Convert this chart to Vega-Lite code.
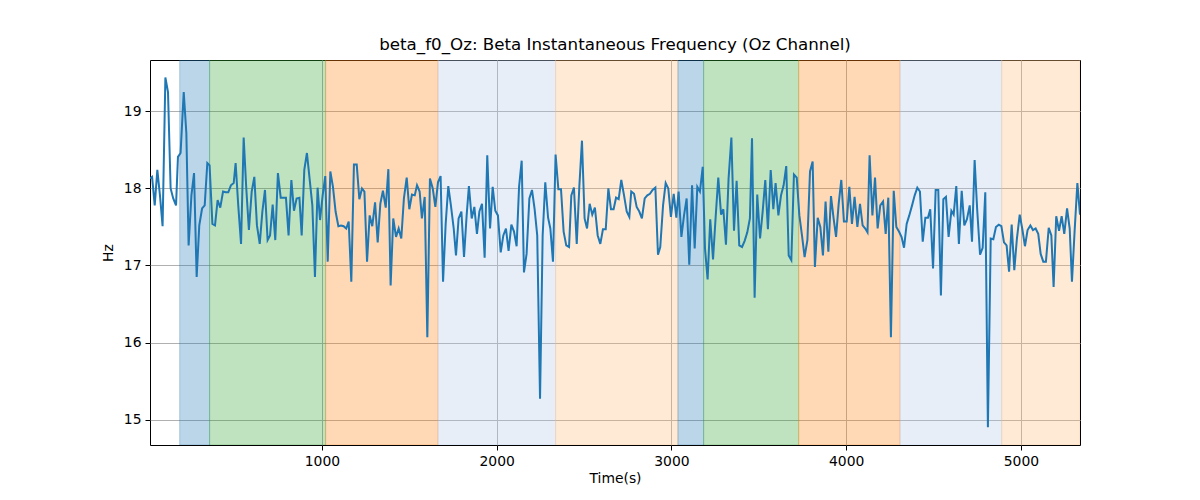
{
  "$schema": "https://vega.github.io/schema/vega-lite/v6.json",
  "autosize": "none",
  "width": 930,
  "height": 385,
  "padding": {"left": 150, "top": 60, "right": 120, "bottom": 55},
  "background": "white",
  "title": {
    "text": "beta_f0_Oz: Beta Instantaneous Frequency (Oz Channel)",
    "font": "DejaVu Sans",
    "fontSize": 16.7,
    "fontWeight": "normal",
    "color": "black",
    "anchor": "middle",
    "offset": 6
  },
  "datasets": {
    "spans": [
      {"start": 186, "end": 357, "phase": "A"},
      {"start": 357, "end": 1021, "phase": "B"},
      {"start": 1021, "end": 1664, "phase": "C"},
      {"start": 1664, "end": 2337, "phase": "D"},
      {"start": 2337, "end": 3037, "phase": "E"},
      {"start": 3037, "end": 3184, "phase": "A"},
      {"start": 3184, "end": 3728, "phase": "B"},
      {"start": 3728, "end": 4308, "phase": "C"},
      {"start": 4308, "end": 4890, "phase": "D"},
      {"start": 4890, "end": 5338, "phase": "E"}
    ],
    "beta": [
      {"t": 16, "hz": 18.13}, {"t": 28, "hz": 18.15}, {"t": 43, "hz": 17.78}, {"t": 58, "hz": 18.24},
      {"t": 73, "hz": 17.91}, {"t": 88, "hz": 17.51}, {"t": 104, "hz": 19.44}, {"t": 119, "hz": 19.25},
      {"t": 134, "hz": 18.0}, {"t": 149, "hz": 17.87}, {"t": 165, "hz": 17.78}, {"t": 176, "hz": 18.41},
      {"t": 191, "hz": 18.46}, {"t": 209, "hz": 19.25}, {"t": 224, "hz": 18.72}, {"t": 237, "hz": 17.26},
      {"t": 253, "hz": 17.91}, {"t": 268, "hz": 18.2}, {"t": 283, "hz": 16.85}, {"t": 298, "hz": 17.52},
      {"t": 314, "hz": 17.74}, {"t": 329, "hz": 17.78}, {"t": 344, "hz": 18.33}, {"t": 357, "hz": 18.3},
      {"t": 373, "hz": 17.54}, {"t": 388, "hz": 17.52}, {"t": 403, "hz": 17.85}, {"t": 418, "hz": 17.75},
      {"t": 434, "hz": 17.96}, {"t": 449, "hz": 17.95}, {"t": 464, "hz": 17.95}, {"t": 479, "hz": 18.04},
      {"t": 495, "hz": 18.07}, {"t": 506, "hz": 18.33}, {"t": 521, "hz": 17.78}, {"t": 537, "hz": 17.28},
      {"t": 552, "hz": 18.66}, {"t": 567, "hz": 18.0}, {"t": 582, "hz": 17.46}, {"t": 598, "hz": 17.96},
      {"t": 613, "hz": 18.15}, {"t": 628, "hz": 17.52}, {"t": 644, "hz": 17.28}, {"t": 659, "hz": 17.7},
      {"t": 674, "hz": 17.98}, {"t": 689, "hz": 17.33}, {"t": 703, "hz": 17.39}, {"t": 718, "hz": 17.79},
      {"t": 733, "hz": 17.33}, {"t": 748, "hz": 18.2}, {"t": 764, "hz": 17.88}, {"t": 779, "hz": 17.88},
      {"t": 794, "hz": 17.88}, {"t": 809, "hz": 17.39}, {"t": 825, "hz": 18.11}, {"t": 840, "hz": 17.71},
      {"t": 855, "hz": 17.87}, {"t": 871, "hz": 17.88}, {"t": 884, "hz": 17.39}, {"t": 899, "hz": 18.24},
      {"t": 914, "hz": 18.46}, {"t": 930, "hz": 18.11}, {"t": 945, "hz": 17.78}, {"t": 960, "hz": 16.85},
      {"t": 975, "hz": 18.01}, {"t": 989, "hz": 17.59}, {"t": 1004, "hz": 17.91}, {"t": 1019, "hz": 18.16},
      {"t": 1033, "hz": 17.05}, {"t": 1048, "hz": 18.22}, {"t": 1063, "hz": 18.02}, {"t": 1078, "hz": 17.7},
      {"t": 1094, "hz": 17.51}, {"t": 1109, "hz": 17.52}, {"t": 1124, "hz": 17.51}, {"t": 1139, "hz": 17.48},
      {"t": 1153, "hz": 17.57}, {"t": 1168, "hz": 16.79}, {"t": 1183, "hz": 18.31}, {"t": 1199, "hz": 18.31},
      {"t": 1214, "hz": 17.86}, {"t": 1229, "hz": 18.0}, {"t": 1243, "hz": 17.96}, {"t": 1258, "hz": 17.05},
      {"t": 1273, "hz": 17.65}, {"t": 1288, "hz": 17.51}, {"t": 1304, "hz": 17.82}, {"t": 1319, "hz": 17.3},
      {"t": 1334, "hz": 17.8}, {"t": 1349, "hz": 17.97}, {"t": 1365, "hz": 17.75}, {"t": 1380, "hz": 18.25},
      {"t": 1393, "hz": 16.74}, {"t": 1408, "hz": 17.61}, {"t": 1424, "hz": 17.37}, {"t": 1439, "hz": 17.48},
      {"t": 1454, "hz": 17.35}, {"t": 1469, "hz": 17.87}, {"t": 1485, "hz": 18.14}, {"t": 1500, "hz": 17.73},
      {"t": 1515, "hz": 17.92}, {"t": 1531, "hz": 17.91}, {"t": 1544, "hz": 18.04}, {"t": 1559, "hz": 17.96},
      {"t": 1572, "hz": 17.61}, {"t": 1588, "hz": 17.89}, {"t": 1603, "hz": 16.07}, {"t": 1618, "hz": 18.13},
      {"t": 1634, "hz": 18.0}, {"t": 1649, "hz": 17.76}, {"t": 1664, "hz": 18.08}, {"t": 1679, "hz": 18.16},
      {"t": 1693, "hz": 16.79}, {"t": 1708, "hz": 17.54}, {"t": 1723, "hz": 18.03}, {"t": 1738, "hz": 17.78},
      {"t": 1754, "hz": 17.48}, {"t": 1767, "hz": 17.13}, {"t": 1782, "hz": 17.61}, {"t": 1798, "hz": 17.7},
      {"t": 1813, "hz": 17.11}, {"t": 1828, "hz": 17.65}, {"t": 1841, "hz": 18.03}, {"t": 1857, "hz": 17.61},
      {"t": 1872, "hz": 17.76}, {"t": 1887, "hz": 17.41}, {"t": 1901, "hz": 17.7}, {"t": 1916, "hz": 17.8},
      {"t": 1931, "hz": 17.1}, {"t": 1946, "hz": 18.43}, {"t": 1962, "hz": 17.48}, {"t": 1977, "hz": 18.02},
      {"t": 1992, "hz": 17.71}, {"t": 2007, "hz": 17.65}, {"t": 2023, "hz": 17.17}, {"t": 2038, "hz": 17.39},
      {"t": 2053, "hz": 17.48}, {"t": 2068, "hz": 17.19}, {"t": 2084, "hz": 17.53}, {"t": 2099, "hz": 17.44},
      {"t": 2114, "hz": 17.25}, {"t": 2128, "hz": 18.02}, {"t": 2143, "hz": 18.36}, {"t": 2156, "hz": 16.91},
      {"t": 2171, "hz": 17.15}, {"t": 2187, "hz": 17.87}, {"t": 2202, "hz": 17.98}, {"t": 2217, "hz": 17.73},
      {"t": 2232, "hz": 17.39}, {"t": 2248, "hz": 15.27}, {"t": 2263, "hz": 17.39}, {"t": 2278, "hz": 18.08},
      {"t": 2294, "hz": 17.62}, {"t": 2307, "hz": 17.48}, {"t": 2322, "hz": 17.05}, {"t": 2337, "hz": 18.44},
      {"t": 2353, "hz": 17.99}, {"t": 2368, "hz": 17.99}, {"t": 2383, "hz": 17.44}, {"t": 2398, "hz": 17.26},
      {"t": 2414, "hz": 17.24}, {"t": 2427, "hz": 17.91}, {"t": 2442, "hz": 18.01}, {"t": 2458, "hz": 17.28},
      {"t": 2473, "hz": 18.03}, {"t": 2488, "hz": 18.62}, {"t": 2503, "hz": 17.61}, {"t": 2517, "hz": 17.48},
      {"t": 2532, "hz": 17.8}, {"t": 2547, "hz": 17.66}, {"t": 2562, "hz": 17.75}, {"t": 2578, "hz": 17.39},
      {"t": 2593, "hz": 17.28}, {"t": 2608, "hz": 17.47}, {"t": 2624, "hz": 17.47}, {"t": 2639, "hz": 18.0},
      {"t": 2654, "hz": 17.73}, {"t": 2669, "hz": 17.73}, {"t": 2683, "hz": 17.88}, {"t": 2698, "hz": 17.86},
      {"t": 2713, "hz": 18.11}, {"t": 2728, "hz": 17.92}, {"t": 2744, "hz": 17.7}, {"t": 2759, "hz": 17.63},
      {"t": 2770, "hz": 17.96}, {"t": 2786, "hz": 17.93}, {"t": 2801, "hz": 17.76}, {"t": 2816, "hz": 17.7},
      {"t": 2831, "hz": 17.61}, {"t": 2847, "hz": 17.87}, {"t": 2862, "hz": 17.91}, {"t": 2877, "hz": 17.93},
      {"t": 2892, "hz": 17.98}, {"t": 2908, "hz": 18.01}, {"t": 2923, "hz": 17.14}, {"t": 2936, "hz": 17.24},
      {"t": 2952, "hz": 17.78}, {"t": 2967, "hz": 18.07}, {"t": 2982, "hz": 18.0}, {"t": 2997, "hz": 17.63},
      {"t": 3013, "hz": 17.93}, {"t": 3028, "hz": 17.62}, {"t": 3041, "hz": 17.96}, {"t": 3057, "hz": 17.37},
      {"t": 3072, "hz": 17.65}, {"t": 3087, "hz": 17.87}, {"t": 3102, "hz": 17.01}, {"t": 3118, "hz": 18.04},
      {"t": 3133, "hz": 17.22}, {"t": 3148, "hz": 18.02}, {"t": 3163, "hz": 17.96}, {"t": 3179, "hz": 18.28},
      {"t": 3192, "hz": 17.22}, {"t": 3207, "hz": 16.82}, {"t": 3222, "hz": 17.6}, {"t": 3238, "hz": 17.08},
      {"t": 3253, "hz": 17.63}, {"t": 3268, "hz": 18.14}, {"t": 3284, "hz": 17.66}, {"t": 3297, "hz": 17.73},
      {"t": 3312, "hz": 17.27}, {"t": 3327, "hz": 18.13}, {"t": 3343, "hz": 18.66}, {"t": 3358, "hz": 17.45},
      {"t": 3373, "hz": 18.1}, {"t": 3388, "hz": 17.26}, {"t": 3404, "hz": 17.24}, {"t": 3419, "hz": 17.32},
      {"t": 3434, "hz": 17.43}, {"t": 3449, "hz": 17.61}, {"t": 3461, "hz": 18.65}, {"t": 3476, "hz": 16.58},
      {"t": 3491, "hz": 17.92}, {"t": 3507, "hz": 17.35}, {"t": 3522, "hz": 17.7}, {"t": 3537, "hz": 18.11},
      {"t": 3552, "hz": 17.47}, {"t": 3568, "hz": 18.24}, {"t": 3583, "hz": 17.73}, {"t": 3596, "hz": 18.07},
      {"t": 3612, "hz": 17.65}, {"t": 3627, "hz": 17.91}, {"t": 3642, "hz": 18.04}, {"t": 3657, "hz": 18.29},
      {"t": 3671, "hz": 17.13}, {"t": 3686, "hz": 17.07}, {"t": 3701, "hz": 18.18}, {"t": 3717, "hz": 18.14},
      {"t": 3732, "hz": 17.65}, {"t": 3747, "hz": 17.39}, {"t": 3762, "hz": 17.11}, {"t": 3778, "hz": 17.33},
      {"t": 3793, "hz": 18.22}, {"t": 3808, "hz": 18.35}, {"t": 3821, "hz": 16.98}, {"t": 3837, "hz": 17.62},
      {"t": 3852, "hz": 17.5}, {"t": 3867, "hz": 17.13}, {"t": 3882, "hz": 17.83}, {"t": 3898, "hz": 17.18},
      {"t": 3913, "hz": 17.9}, {"t": 3928, "hz": 17.61}, {"t": 3942, "hz": 17.37}, {"t": 3957, "hz": 17.8},
      {"t": 3972, "hz": 18.11}, {"t": 3987, "hz": 17.57}, {"t": 4003, "hz": 17.57}, {"t": 4018, "hz": 18.02},
      {"t": 4033, "hz": 17.54}, {"t": 4048, "hz": 17.89}, {"t": 4064, "hz": 17.5}, {"t": 4079, "hz": 17.8},
      {"t": 4094, "hz": 17.52}, {"t": 4109, "hz": 17.48}, {"t": 4122, "hz": 17.43}, {"t": 4134, "hz": 18.43},
      {"t": 4150, "hz": 17.65}, {"t": 4165, "hz": 18.14}, {"t": 4180, "hz": 17.48}, {"t": 4195, "hz": 17.78},
      {"t": 4211, "hz": 17.83}, {"t": 4226, "hz": 17.41}, {"t": 4241, "hz": 17.88}, {"t": 4256, "hz": 16.07},
      {"t": 4272, "hz": 17.97}, {"t": 4287, "hz": 17.5}, {"t": 4302, "hz": 17.44}, {"t": 4317, "hz": 17.37},
      {"t": 4331, "hz": 17.23}, {"t": 4346, "hz": 17.54}, {"t": 4361, "hz": 17.65}, {"t": 4377, "hz": 17.78},
      {"t": 4392, "hz": 17.91}, {"t": 4407, "hz": 18.01}, {"t": 4422, "hz": 17.96}, {"t": 4438, "hz": 17.31},
      {"t": 4453, "hz": 17.62}, {"t": 4468, "hz": 17.62}, {"t": 4481, "hz": 17.73}, {"t": 4497, "hz": 16.96},
      {"t": 4512, "hz": 17.98}, {"t": 4527, "hz": 17.98}, {"t": 4542, "hz": 16.61}, {"t": 4556, "hz": 17.86},
      {"t": 4571, "hz": 17.89}, {"t": 4586, "hz": 17.37}, {"t": 4602, "hz": 17.71}, {"t": 4615, "hz": 17.66},
      {"t": 4630, "hz": 18.03}, {"t": 4645, "hz": 17.28}, {"t": 4661, "hz": 17.97}, {"t": 4676, "hz": 17.52},
      {"t": 4691, "hz": 17.6}, {"t": 4707, "hz": 17.78}, {"t": 4720, "hz": 17.31}, {"t": 4735, "hz": 18.37},
      {"t": 4750, "hz": 17.71}, {"t": 4766, "hz": 17.14}, {"t": 4781, "hz": 17.23}, {"t": 4796, "hz": 17.95},
      {"t": 4811, "hz": 14.9}, {"t": 4827, "hz": 17.35}, {"t": 4842, "hz": 17.34}, {"t": 4857, "hz": 17.5},
      {"t": 4873, "hz": 17.53}, {"t": 4888, "hz": 17.51}, {"t": 4903, "hz": 17.3}, {"t": 4918, "hz": 17.26},
      {"t": 4932, "hz": 16.92}, {"t": 4947, "hz": 17.53}, {"t": 4962, "hz": 16.94}, {"t": 4977, "hz": 17.35},
      {"t": 4993, "hz": 17.66}, {"t": 5008, "hz": 17.47}, {"t": 5023, "hz": 17.25}, {"t": 5038, "hz": 17.46},
      {"t": 5054, "hz": 17.52}, {"t": 5069, "hz": 17.46}, {"t": 5084, "hz": 17.48}, {"t": 5099, "hz": 17.41},
      {"t": 5113, "hz": 17.15}, {"t": 5128, "hz": 17.05}, {"t": 5143, "hz": 17.05}, {"t": 5159, "hz": 17.49},
      {"t": 5174, "hz": 17.39}, {"t": 5187, "hz": 16.72}, {"t": 5202, "hz": 17.64}, {"t": 5218, "hz": 17.45},
      {"t": 5233, "hz": 17.64}, {"t": 5248, "hz": 17.41}, {"t": 5264, "hz": 17.74}, {"t": 5279, "hz": 17.48},
      {"t": 5292, "hz": 16.79}, {"t": 5307, "hz": 17.44}, {"t": 5323, "hz": 18.07}, {"t": 5338, "hz": 17.66}
    ]
  },
  "layer": [
    {
      "data": {"name": "spans"},
      "mark": {"type": "rect", "fillOpacity": 0.3, "strokeOpacity": 0.3, "strokeWidth": 1, "clip": true},
      "encoding": {
        "x": {
          "field": "start",
          "type": "quantitative",
          "scale": {"domain": [16, 5338], "nice": false, "zero": false},
          "axis": {"values": [1000, 2000, 3000, 4000, 5000], "format": "d", "title": "Time(s)"}
        },
        "x2": {"field": "end"},
        "fill": {
          "field": "phase",
          "type": "nominal",
          "scale": {"domain": ["A", "B", "C", "D", "E"], "range": ["#1f77b4", "#2ca02c", "#ff7f0e", "#aec7e8", "#ffbb78"]},
          "legend": null
        },
        "stroke": {
          "field": "phase",
          "type": "nominal",
          "scale": {"domain": ["A", "B", "C", "D", "E"], "range": ["#1f77b4", "#2ca02c", "#ff7f0e", "#aec7e8", "#ffbb78"]},
          "legend": null
        }
      }
    },
    {
      "data": {"name": "beta"},
      "mark": {"type": "line", "color": "#1f77b4", "strokeWidth": 2, "clip": true},
      "encoding": {
        "x": {"field": "t", "type": "quantitative"},
        "y": {
          "field": "hz",
          "type": "quantitative",
          "scale": {"domain": [14.67, 19.667], "nice": false, "zero": false},
          "axis": {"values": [15, 16, 17, 18, 19], "format": "d", "title": "Hz"}
        }
      }
    }
  ],
  "config": {
    "view": {"stroke": "black", "strokeWidth": 1},
    "axis": {
      "zindex": 1,
      "domain": false,
      "grid": true,
      "gridColor": "#b0b0b0",
      "gridWidth": 1,
      "ticks": true,
      "tickColor": "black",
      "tickSize": 5,
      "tickWidth": 1,
      "labelFont": "DejaVu Sans",
      "labelFontSize": 13.9,
      "labelColor": "black",
      "labelPadding": 4,
      "titleFont": "DejaVu Sans",
      "titleFontSize": 13.9,
      "titleFontWeight": "normal",
      "titleColor": "black"
    },
    "axisX": {"titlePadding": 4},
    "axisY": {"titlePadding": 8}
  }
}
